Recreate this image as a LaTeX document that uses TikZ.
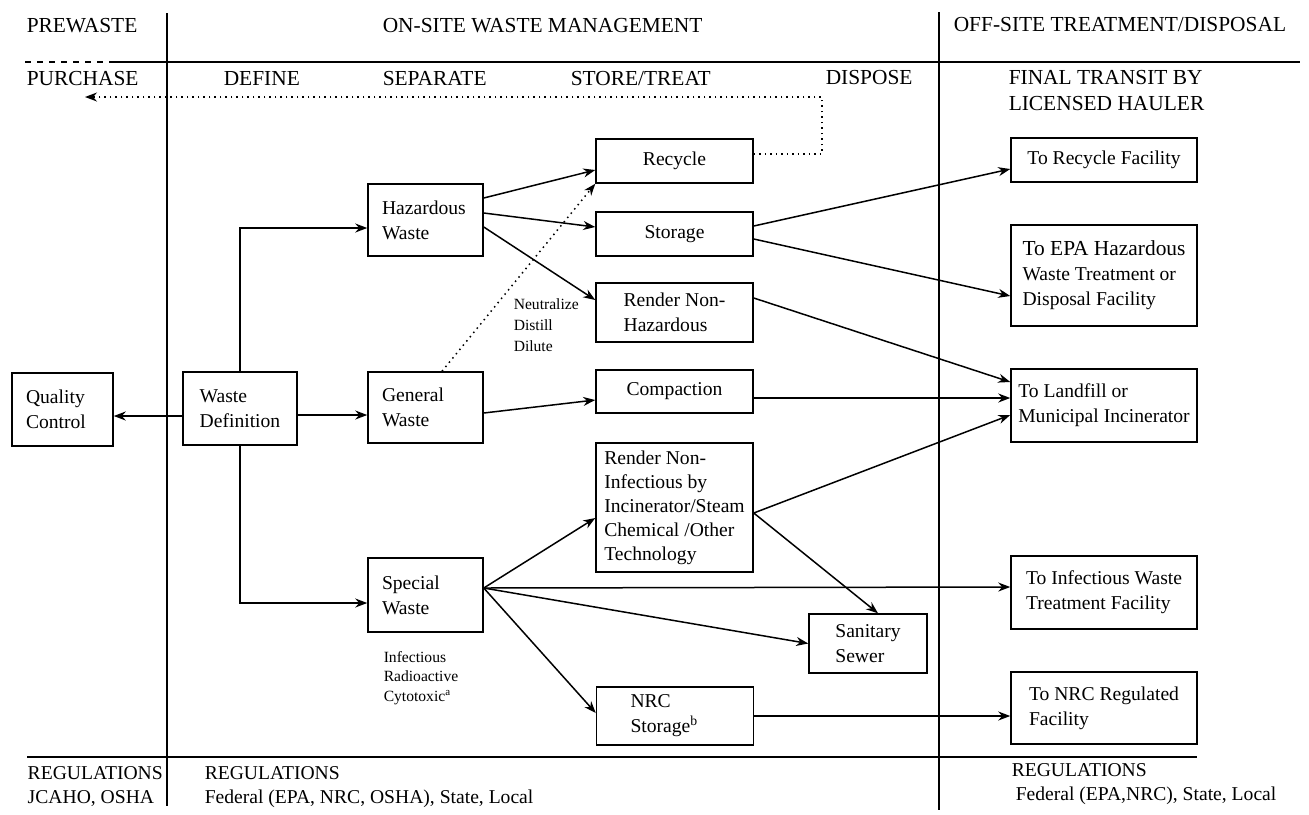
\documentclass[tikz,border=0pt]{standalone}
\usepackage{fontspec}
\setmainfont{Liberation Serif}
\usetikzlibrary{arrows.meta}
\tikzset{>={Stealth[length=6pt,width=4.5pt]}}
\hyphenpenalty=10000

\begin{document}
\begin{tikzpicture}[x=0.5pt, y=-0.5pt, line width=0.75pt,
    every node/.style={inner sep=0pt},
    head/.style={anchor=base west, font=\fontsize{10.7}{13}\selectfont},
    note/.style={anchor=west, align=left, font=\fontsize{7.8}{10.5}\selectfont},
    reg/.style={anchor=north west, align=left, font=\fontsize{9.8}{12}\selectfont},
    box/.style={draw, align=left, inner ysep=2pt, font=\fontsize{9.8}{12.5}\selectfont},
    sepbox/.style={box, inner xsep=7pt, text width=43.5pt, minimum height=#1},
    trtbox/.style={box, minimum width=78.5pt, minimum height=#1},
    offbox/.style={box, minimum width=93pt, minimum height=#1}]
     \fill[white] (0,0) rectangle (1309,814);
     % column and row headings
     \node[head] (prew) at (26,32) {PREWASTE};
     \node[head] (onsite) at (382,32) {ON-SITE WASTE MANAGEMENT};
     \node[head] (offsite) at (953,31) {OFF-SITE TREATMENT/DISPOSAL};
     \node[head] (purch) at (26,85) {PURCHASE};
     \node[head] (define) at (223,85) {DEFINE};
     \node[head] (separ) at (382,85) {SEPARATE};
     \node[head] (store) at (570,85) {STORE/TREAT};
     \node[head] (dispose) at (825,84) {DISPOSE};
     \node[head, anchor=north west, align=left] (transit) at (1008,70) {FINAL TRANSIT BY\\LICENSED HAULER};
     \draw[line width=0.7pt] (167,13) -- (167,806);
     \draw[line width=0.7pt] (939,12) -- (939,810);
     \draw[dashed, line width=0.7pt] (25,62) -- (110,62);
     \draw[line width=0.7pt] (110,62) -- (1300,62);
     \draw[line width=0.7pt] (27,757) -- (1197,757);
     % boxes
     \node[sepbox=36.5pt, text width=36.5pt] (qc) at (62.5,409.5) {Quality\\Control};
     \node[box, minimum width=57pt, minimum height=36.5pt] (wdef) at (240,408.5) {Waste\\Definition};
     \node[sepbox=36pt] (haz) at (425.5,220) {Hazardous\\Waste};
     \node[sepbox=35.5pt] (gen) at (425.5,407.5) {General\\Waste};
     \node[sepbox=37pt] (spec) at (425.5,595) {Special\\Waste};
     \node[trtbox=22pt, align=center] (recyc) at (674.5,161) {Recycle};
     \node[trtbox=22pt, align=center] (stor) at (674.5,234) {Storage};
     \node[trtbox=29.5pt] (rnh) at (674.5,312.5) {Render Non-\\Hazardous};
     \node[trtbox=21.5pt, align=center] (comp) at (674.5,391.5) {Compaction};
     \node[trtbox=64.5pt, font=\fontsize{9.8}{12}\selectfont] (rni) at (674.5,507.5) {Render Non-\\Infectious by\\Incinerator/Steam\\Chemical /Other\\Technology};
     \node[trtbox=29pt, inner xsep=17pt, text width=44.5pt] (nrcs) at (675,716) {NRC\\Storage\textsuperscript{b}};
     \node[box, minimum width=59pt, minimum height=29.5pt] (sani) at (868,643.5) {Sanitary\\Sewer};
     \node[offbox=22pt] (trf) at (1104,160) {To Recycle Facility};
     \node[offbox=50.5pt] (tepa) at (1104,275.5) {{\fontsize{10.7}{13}\selectfont To EPA Hazardous}\\Waste Treatment or\\Disposal Facility};
     \node[offbox=36.5pt] (tlf) at (1104,405.5) {To Landfill or\\Municipal Incinerator};
     \node[offbox=36.5pt] (tinf) at (1104,592.5) {To Infectious Waste\\Treatment Facility};
     \node[offbox=36pt] (tnrc) at (1104,708) {To NRC Regulated\\Facility};
     \node[note] (treat) at (513,325) {Neutralize\\Distill\\Dilute};
     \node[note, font=\fontsize{7.8}{9.8}\selectfont] (kinds) at (383,678) {Infectious\\Radioactive\\Cytotoxic\textsuperscript{a}};
     \node[reg] (regpre) at (27,766) {REGULATIONS\\JCAHO, OSHA};
     \node[reg] (regon) at (204,766) {REGULATIONS\\Federal (EPA, NRC, OSHA), State, Local};
     \node[reg] (regoff) at (1011,763) {REGULATIONS\\\hspace*{2pt}Federal (EPA,NRC), State, Local};
     % flows
     \draw[->, line width=1.3pt] ([yshift=-3.75pt]wdef.west) -- ([yshift=-3.25pt]qc.east);
     \draw[->] ([yshift=-3.25pt]wdef.east) -- ([yshift=-3.75pt]gen.west);
     \draw[->] (wdef.north) |- ([yshift=-4pt]haz.west);
     \draw[->] (wdef.south) |- ([yshift=-4pt]spec.west);
     \draw[->] ([yshift=11pt]haz.east) -- ([yshift=-4.5pt]recyc.west);
     \draw[->] ([yshift=3.5pt]haz.east) -- ([yshift=3.5pt]stor.west);
     \draw[->] ([yshift=-3.5pt]haz.east) -- ([yshift=6.25pt]rnh.west);
     \draw[->, dotted] ([xshift=8.25pt]gen.north) -- (recyc.south west);
     \draw[->] ([yshift=-2.75pt]gen.east) -- ([yshift=-4.25pt]comp.west);
     \coordinate (spout) at ([yshift=3.5pt]spec.east);
     \draw[->] (spout) -- ([yshift=-5.25pt]rni.west);
     \draw[->] (spout) -- ([yshift=2.75pt]tinf.west);
     \draw[->] (spout) -- (sani.west);
     \draw[->] (spout) -- ([yshift=1.5pt]nrcs.west);
     \draw[->] ([yshift=4pt]stor.east) -- ([yshift=-4.5pt]trf.west);
     \draw[->] ([yshift=-2.5pt]stor.east) -- ([yshift=-10.25pt]tepa.west);
     \draw[->] ([yshift=7.25pt]rnh.east) -- ([yshift=11.75pt]tlf.west);
     \draw[->] ([yshift=-3.25pt]comp.east) -- ([yshift=3.75pt]tlf.west);
     \coordinate (rniout) at ([yshift=-2.75pt]rni.east);
     \draw[->] (rniout) -- ([yshift=-4.75pt]tlf.west);
     \draw[->] (rniout) -- ([xshift=5pt]sani.north);
     \draw[->] (nrcs.east) -- ([yshift=-4pt]tnrc.west);
     \coordinate (loopc) at (822,97);
     \coordinate (backend) at (85,97);
     \draw[->, dotted] ([yshift=3.5pt]recyc.east) -| (loopc) -- (backend);
\end{tikzpicture}
\end{document}
